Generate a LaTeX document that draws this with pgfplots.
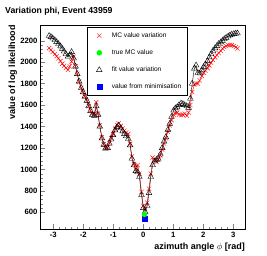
\documentclass[border=0pt]{standalone}
\usepackage{pgfplots}
\pgfplotsset{compat=1.18}
\usepackage{fontspec}
\setmainfont{Liberation Sans}
\usepackage{pgfplotstable}
\pgfplotstableread{
x y
-3.14 2130
-3.08 2115
-3.02 2095
-2.95 2075
-2.89 2055
-2.83 2036
-2.76 2010
-2.70 1985
-2.64 1965
-2.58 1945
-2.51 1928
-2.45 1960
-2.39 2005
-2.32 2050
-2.26 1960
-2.20 1890
-2.14 1820
-2.07 1760
-2.01 1720
-1.95 1680
-1.88 1640
-1.82 1590
-1.76 1545
-1.70 1520
-1.63 1520
-1.57 1625
-1.51 1520
-1.45 1410
-1.38 1300
-1.32 1235
-1.26 1200
-1.19 1205
-1.13 1245
-1.07 1290
-1.01 1330
-0.94 1380
-0.88 1415
-0.82 1430
-0.75 1405
-0.69 1380
-0.63 1360
-0.57 1345
-0.50 1330
-0.44 1240
-0.38 1120
-0.31 1050
-0.25 1000
-0.19 1040
-0.13 960
-0.06 790
0.00 660
0.06 630
0.13 690
0.19 820
0.25 960
0.31 1110
0.38 1090
0.44 1070
0.50 1090
0.57 1130
0.63 1185
0.69 1240
0.75 1290
0.82 1350
0.88 1410
0.94 1460
1.01 1510
1.07 1525
1.13 1530
1.19 1510
1.26 1505
1.32 1510
1.38 1520
1.45 1500
1.51 1530
1.57 1600
1.63 1720
1.70 1790
1.76 1800
1.82 1800
1.88 1830
1.95 1870
2.01 1900
2.07 1920
2.14 1945
2.20 1970
2.26 1995
2.32 2020
2.39 2045
2.45 2065
2.51 2085
2.58 2105
2.64 2125
2.70 2140
2.76 2150
2.83 2158
2.89 2160
2.95 2158
3.02 2150
3.08 2140
3.14 2128
}\mcdata
\pgfplotstableread{
x y
-3.14 2245
-3.08 2235
-3.02 2222
-2.95 2205
-2.89 2188
-2.83 2170
-2.76 2148
-2.70 2125
-2.64 2100
-2.58 2075
-2.51 2052
-2.45 2065
-2.39 2095
-2.32 2035
-2.26 1960
-2.20 1890
-2.14 1820
-2.07 1760
-2.01 1720
-1.95 1680
-1.88 1640
-1.82 1590
-1.76 1545
-1.70 1510
-1.63 1500
-1.57 1590
-1.51 1510
-1.45 1400
-1.38 1290
-1.32 1230
-1.26 1195
-1.19 1200
-1.13 1240
-1.07 1280
-1.01 1320
-0.94 1365
-0.88 1395
-0.82 1410
-0.75 1385
-0.69 1355
-0.63 1330
-0.57 1310
-0.50 1285
-0.44 1225
-0.38 1100
-0.31 1040
-0.25 985
-0.19 975
-0.13 930
-0.06 760
0.00 640
0.06 605
0.13 660
0.19 780
0.25 930
0.31 1040
0.38 1075
0.44 1090
0.50 1100
0.57 1140
0.63 1200
0.69 1260
0.75 1300
0.82 1370
0.88 1425
0.94 1490
1.01 1550
1.07 1570
1.13 1580
1.19 1600
1.26 1615
1.32 1610
1.38 1600
1.45 1590
1.51 1575
1.57 1660
1.63 1800
1.70 1940
1.76 1970
1.82 1900
1.88 1895
1.95 1925
2.01 1955
2.07 1980
2.14 2010
2.20 2045
2.26 2075
2.32 2105
2.39 2130
2.45 2150
2.51 2170
2.58 2185
2.64 2200
2.70 2215
2.76 2228
2.83 2240
2.89 2250
2.95 2258
3.02 2263
3.08 2267
3.14 2268
}\fitdata
\definecolor{rootred}{RGB}{255,0,0}
\definecolor{rootgreen}{RGB}{0,255,0}
\definecolor{rootblue}{RGB}{0,0,255}
\pgfplotsset{rootlegimg/.style={legend image code/.code={\draw[##1] plot coordinates {(0pt,0pt)}; \path[draw=none,fill=none] (-8.6pt,0pt) (10.4pt,0pt);}}}
\begin{document}
\begin{tikzpicture}
\useasboundingbox (0pt,0pt) rectangle (267pt,255pt);
\node[anchor=base west, font=\fontsize{8.7}{10}\selectfont\bfseries, inner sep=0] at (5pt,241.7pt) {Variation phi, Event 43959};
\begin{axis}[
  at={(40pt,26pt)}, anchor=south west, scale only axis,
  width=205pt, height=204pt,
  xmin=-3.443, xmax=3.39, ymin=444, ymax=2346,
  xtick={-3,-2,-1,0,1,2,3}, minor x tick num=4,
  ytick={600,800,1000,1200,1400,1600,1800,2000,2200}, minor y tick num=4,
  tick pos=left, tick align=inside,
  major tick length=5pt, minor tick length=2.5pt,
  scaled ticks=false,
  /pgf/number format/1000 sep={},
  /pgf/number format/assume math mode=true,
  ticklabel style={font=\fontsize{7.7}{9}\selectfont\bfseries},
  yticklabel style={inner sep=2.3pt},
  xlabel={azimuth angle $\phi$ [rad]},
  ylabel={value of log likelihood},
  label style={font=\fontsize{9}{10}\selectfont\bfseries},
  xlabel style={at={(rel axis cs:1,0)}, anchor=base east, yshift=-20pt, inner sep=0pt},
  ylabel style={at={(rel axis cs:-0.132,1)}, anchor=east, inner sep=0pt},
  legend style={at={(rel axis cs:0.228,0.99)}, anchor=north west, draw=black, fill=white,
    font=\fontsize{6.6}{8}\selectfont, row sep=6.5pt, inner xsep=3.7pt, inner ysep=3pt, line width=0.5pt,
    nodes={inner xsep=2.2pt, inner ysep=2.2pt}},
  legend cell align=left,
]
\addlegendimage{rootlegimg, mark=x, mark size=3, rootred, line width=0.4pt}
\addlegendentry{MC value variation}
\addlegendimage{rootlegimg, mark=*, mark size=2.5, rootgreen, draw=none}
\addlegendentry{true MC value}
\addlegendimage{rootlegimg, mark=triangle, mark size=3.3, black, line width=0.4pt}
\addlegendentry{fit value variation}
\addlegendimage{rootlegimg, mark=square*, mark size=2.5, rootblue, draw=none}
\addlegendentry{value from minimisation}
\addplot[forget plot, rootred, line width=0.4pt, mark=x, mark size=3, mark options={line width=0.4pt}] table {\mcdata};
\addplot[forget plot, black, line width=0.4pt, mark=triangle, mark size=3.3, mark options={line width=0.4pt}] table {\fitdata};
\addplot[forget plot, only marks, mark=square*, mark size=2.5, rootblue, draw=none] coordinates {(0.05,540)};
\addplot[forget plot, only marks, mark=*, mark size=2.5, rootgreen, draw=none] coordinates {(0.04,580)};
\end{axis}
\end{tikzpicture}
\end{document}
